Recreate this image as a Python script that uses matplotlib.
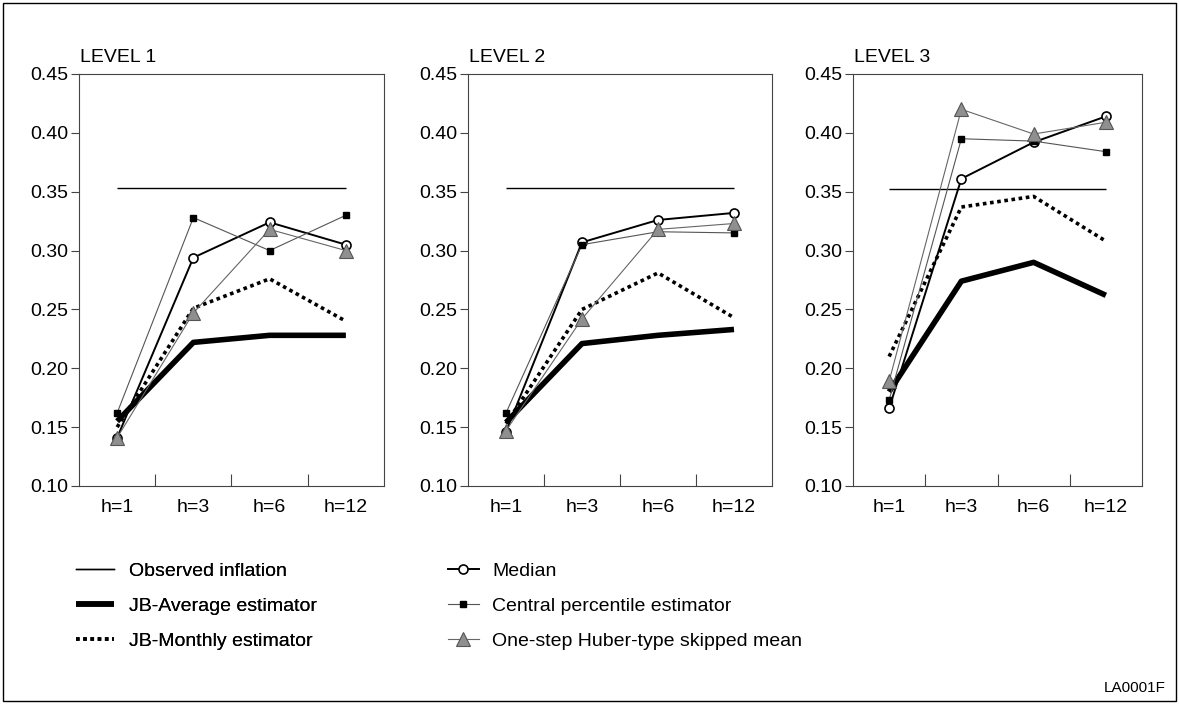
import matplotlib
matplotlib.use("Agg")
import matplotlib.pyplot as plt
from matplotlib.lines import Line2D
from matplotlib.patches import Rectangle

plt.rcParams['font.family'] = ['Liberation Sans', 'DejaVu Sans']

horizons = ["h=1", "h=3", "h=6", "h=12"]
levels = ["LEVEL 1", "LEVEL 2", "LEVEL 3"]

observed = [0.353, 0.353, 0.352]
jb_average = [
    [0.155, 0.222, 0.228, 0.228],
    [0.154, 0.221, 0.228, 0.233],
    [0.180, 0.274, 0.290, 0.262],
]
jb_monthly = [
    [0.150, 0.251, 0.276, 0.240],
    [0.153, 0.250, 0.281, 0.243],
    [0.210, 0.337, 0.346, 0.308],
]
median = [
    [0.141, 0.294, 0.324, 0.305],
    [0.146, 0.307, 0.326, 0.332],
    [0.166, 0.361, 0.392, 0.414],
]
central_pct = [
    [0.162, 0.328, 0.300, 0.330],
    [0.162, 0.305, 0.316, 0.315],
    [0.173, 0.395, 0.393, 0.384],
]
huber = [
    [0.141, 0.247, 0.318, 0.300],
    [0.147, 0.242, 0.318, 0.323],
    [0.189, 0.420, 0.399, 0.409],
]

W, H = 1179, 704
fig = plt.figure(figsize=(W / 100, H / 100), dpi=100)

# outer frame
fig.patches.append(Rectangle((3 / W, 3 / H), 1 - 6 / W, 1 - 6 / H,
                             transform=fig.transFigure, fill=False,
                             edgecolor='black', linewidth=1.0))

# axes boxes in pixels: left, right
boxes = [(79, 384), (468, 772), (853, 1142)]
top_px, bot_px = 74, 486

obs_style = dict(color='black', lw=1.0)
avg_style = dict(color='black', lw=4.0, solid_capstyle='butt')
mon_style = dict(color='black', lw=2.6, linestyle=(0, (1, 1)))
med_style = dict(color='black', lw=1.4, marker='o', markersize=6.5,
                 markerfacecolor='white', markeredgecolor='black', markeredgewidth=1.2)
cp_style = dict(color='#555555', lw=0.8, marker='s', markersize=4,
                markerfacecolor='black', markeredgecolor='black')
hub_style = dict(color='#666666', lw=0.8, marker='^', markersize=10,
                 markerfacecolor='#8f8f8f', markeredgecolor='#555555', markeredgewidth=0.8)

x = list(range(len(horizons)))
for i, (l, r) in enumerate(boxes):
    ax = fig.add_axes([l / W, 1 - bot_px / H, (r - l) / W, (bot_px - top_px) / H])
    ax.hlines(observed[i], x[0], x[-1], **obs_style)
    ax.plot(x, jb_average[i], **avg_style)
    ax.plot(x, jb_monthly[i], **mon_style)
    ax.plot(x, median[i], **med_style)
    ax.plot(x, central_pct[i], **cp_style)
    ax.plot(x, huber[i], **hub_style)

    ax.set_xlim(-0.5, len(horizons) - 0.5)
    ax.set_ylim(0.10, 0.45)
    ax.set_yticks([0.10, 0.15, 0.20, 0.25, 0.30, 0.35, 0.40, 0.45])
    ax.set_yticklabels([f"{v:.2f}" for v in ax.get_yticks()])
    ax.set_xticks(x)
    ax.set_xticklabels(horizons)
    ax.set_xticks([v + 0.5 for v in x[:-1]], minor=True)
    ax.tick_params(axis='x', which='major', length=0, pad=9, labelsize=14)
    ax.tick_params(axis='x', which='minor', direction='in', length=9, width=0.8, color='#444444')
    ax.tick_params(axis='y', direction='out', length=6, width=0.8, color='#444444', labelsize=14, pad=2)
    for s in ax.spines.values():
        s.set_linewidth(0.8)
        s.set_color('#444444')
    ax.set_title(levels[i], loc='left', fontsize=14, pad=9, x=0.003)

# legend
left_handles = [Line2D([], [], **obs_style), Line2D([], [], **avg_style),
                Line2D([], [], **mon_style)]
left_labels = ["Observed inflation", "JB-Average estimator", "JB-Monthly estimator"]
right_handles = [Line2D([], [], **med_style), Line2D([], [], **cp_style),
                 Line2D([], [], **hub_style)]
right_labels = ["Median", "Central percentile estimator", "One-step Huber-type skipped mean"]

leg1 = fig.legend(left_handles, left_labels, loc='upper left',
                  bbox_to_anchor=(58 / W, 1 - 545 / H), frameon=False,
                  fontsize=14, handlelength=2.0, handletextpad=0.75, labelspacing=0.88)
fig.add_artist(leg1)
fig.legend(right_handles, right_labels, loc='upper left',
           bbox_to_anchor=(430 / W, 1 - 545 / H), frameon=False,
           fontsize=14, handlelength=1.6, handletextpad=0.7, labelspacing=0.88)

fig.text(1166 / W, 1 - 688 / H, "LA0001F", ha='right', va='center', fontsize=11)

fig.savefig("out.png", dpi=100)
